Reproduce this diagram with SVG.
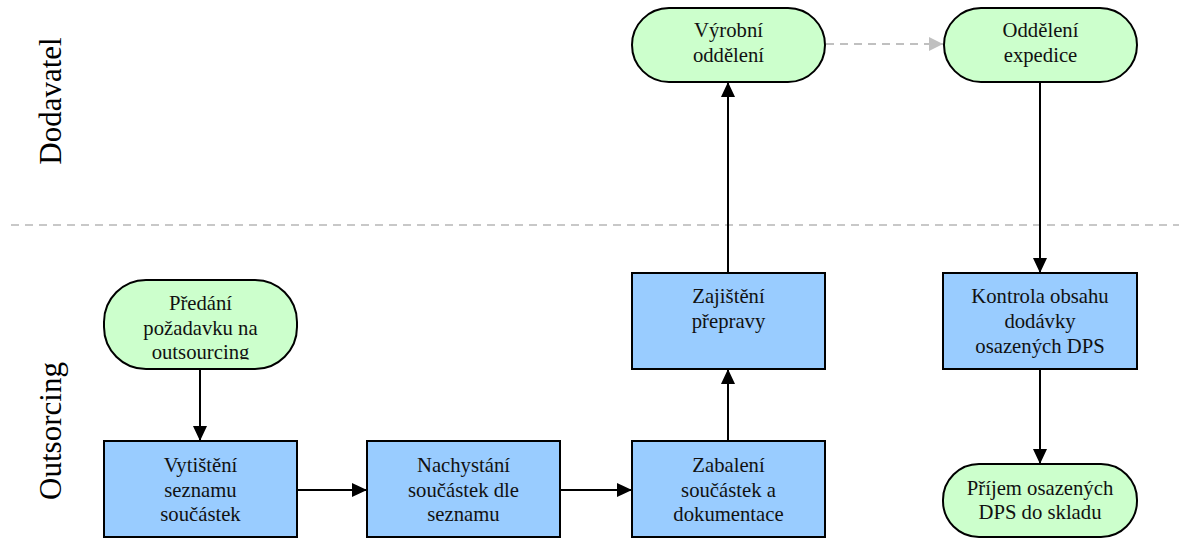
<svg xmlns="http://www.w3.org/2000/svg" width="1179" height="538" viewBox="0 0 1179 538">
  <style>
    .term { fill: #CCFFCC; stroke: #000; stroke-width: 2; }
    .proc { fill: #99CCFF; stroke: #000; stroke-width: 2; }
    .lbl { font-family: "Liberation Serif", "Times New Roman", serif; font-size: 20.7px; fill: #111; text-anchor: middle; }
    .lane { font-family: "Liberation Serif", "Times New Roman", serif; font-size: 31px; fill: #000; text-anchor: middle; }
    .flow { fill: none; stroke: #000; stroke-width: 2; }
    .flow-dash { fill: none; stroke: #C0C0C0; stroke-width: 2; stroke-dasharray: 8 6; }
    .sep { fill: none; stroke: #C8C8C8; stroke-width: 2; stroke-dasharray: 8 6; }
  </style>
  <defs>
    <marker id="arrow" markerUnits="userSpaceOnUse" markerWidth="15" markerHeight="14" refX="15" refY="7" orient="auto">
      <path d="M0,0 L15,7 L0,14 Z" fill="#000"/>
    </marker>
    <marker id="arrow-grey" markerUnits="userSpaceOnUse" markerWidth="14" markerHeight="14" refX="14" refY="7" orient="auto">
      <path d="M0,0 L14,7 L0,14 Z" fill="#C0C0C0"/>
    </marker>
    <!-- label area of the first terminator: the last line overflows it -->
    <clipPath id="clip-predani">
      <rect x="104" y="280" width="193" height="79.5"/>
    </clipPath>
  </defs>

  <rect width="1179" height="538" fill="#fff"/>

  <!-- swimlanes -->
  <g id="lanes">
    <line class="sep" x1="11" y1="225" x2="1179" y2="225"/>
    <text class="lane" transform="translate(61,101) rotate(-90)">Dodavatel</text>
    <text class="lane" transform="translate(61,431) rotate(-90)">Outsorcing</text>
  </g>

  <!-- connectors -->
  <g id="connectors">
    <line class="flow" x1="200" y1="369" x2="200" y2="441" marker-end="url(#arrow)"/>
    <line class="flow" x1="297" y1="490" x2="367" y2="490" marker-end="url(#arrow)"/>
    <line class="flow" x1="560" y1="490" x2="632" y2="490" marker-end="url(#arrow)"/>
    <line class="flow" x1="728" y1="441" x2="728" y2="369" marker-end="url(#arrow)"/>
    <line class="flow" x1="728" y1="273" x2="728" y2="82" marker-end="url(#arrow)"/>
    <line class="flow-dash" x1="826" y1="44" x2="943" y2="44" marker-end="url(#arrow-grey)"/>
    <line class="flow" x1="1040" y1="82" x2="1040" y2="273" marker-end="url(#arrow)"/>
    <line class="flow" x1="1040" y1="369" x2="1040" y2="464" marker-end="url(#arrow)"/>
  </g>

  <!-- nodes -->
  <g id="node-predani">
    <rect class="term" x="104" y="280" width="193" height="89" rx="42" ry="42"/>
    <g clip-path="url(#clip-predani)">
      <text class="lbl" x="200.5" y="310">Předání</text>
      <text class="lbl" x="200.5" y="334.5">požadavku na</text>
      <text class="lbl" x="200.5" y="359">outsourcing</text>
    </g>
  </g>

  <g id="node-vytisteni">
    <rect class="proc" x="104" y="441" width="193" height="96"/>
    <text class="lbl" x="200.5" y="472">Vytištění</text>
    <text class="lbl" x="200.5" y="497">seznamu</text>
    <text class="lbl" x="200.5" y="521">součástek</text>
  </g>

  <g id="node-nachystani">
    <rect class="proc" x="367" y="441" width="193" height="96"/>
    <text class="lbl" x="463.5" y="472">Nachystání</text>
    <text class="lbl" x="463.5" y="497">součástek dle</text>
    <text class="lbl" x="463.5" y="521">seznamu</text>
  </g>

  <g id="node-zabaleni">
    <rect class="proc" x="632" y="441" width="193" height="96"/>
    <text class="lbl" x="728.5" y="472">Zabalení</text>
    <text class="lbl" x="728.5" y="497">součástek a</text>
    <text class="lbl" x="728.5" y="521">dokumentace</text>
  </g>

  <g id="node-zajisteni">
    <rect class="proc" x="632" y="273" width="193" height="96"/>
    <text class="lbl" x="728.5" y="303">Zajištění</text>
    <text class="lbl" x="728.5" y="328">přepravy</text>
  </g>

  <g id="node-vyrobni">
    <rect class="term" x="632" y="8" width="193" height="74" rx="37" ry="37"/>
    <text class="lbl" x="728.5" y="37">Výrobní</text>
    <text class="lbl" x="728.5" y="62">oddělení</text>
  </g>

  <g id="node-expedice">
    <rect class="term" x="944" y="8" width="193" height="74" rx="37" ry="37"/>
    <text class="lbl" x="1040.5" y="37">Oddělení</text>
    <text class="lbl" x="1040.5" y="62">expedice</text>
  </g>

  <g id="node-kontrola">
    <rect class="proc" x="943" y="273" width="194" height="96"/>
    <text class="lbl" x="1040" y="303">Kontrola obsahu</text>
    <text class="lbl" x="1040" y="328">dodávky</text>
    <text class="lbl" x="1040" y="353">osazených DPS</text>
  </g>

  <g id="node-prijem">
    <rect class="term" x="943" y="464" width="194" height="73" rx="36" ry="36"/>
    <text class="lbl" x="1040" y="495">Příjem osazených</text>
    <text class="lbl" x="1040" y="519">DPS do skladu</text>
  </g>
</svg>
